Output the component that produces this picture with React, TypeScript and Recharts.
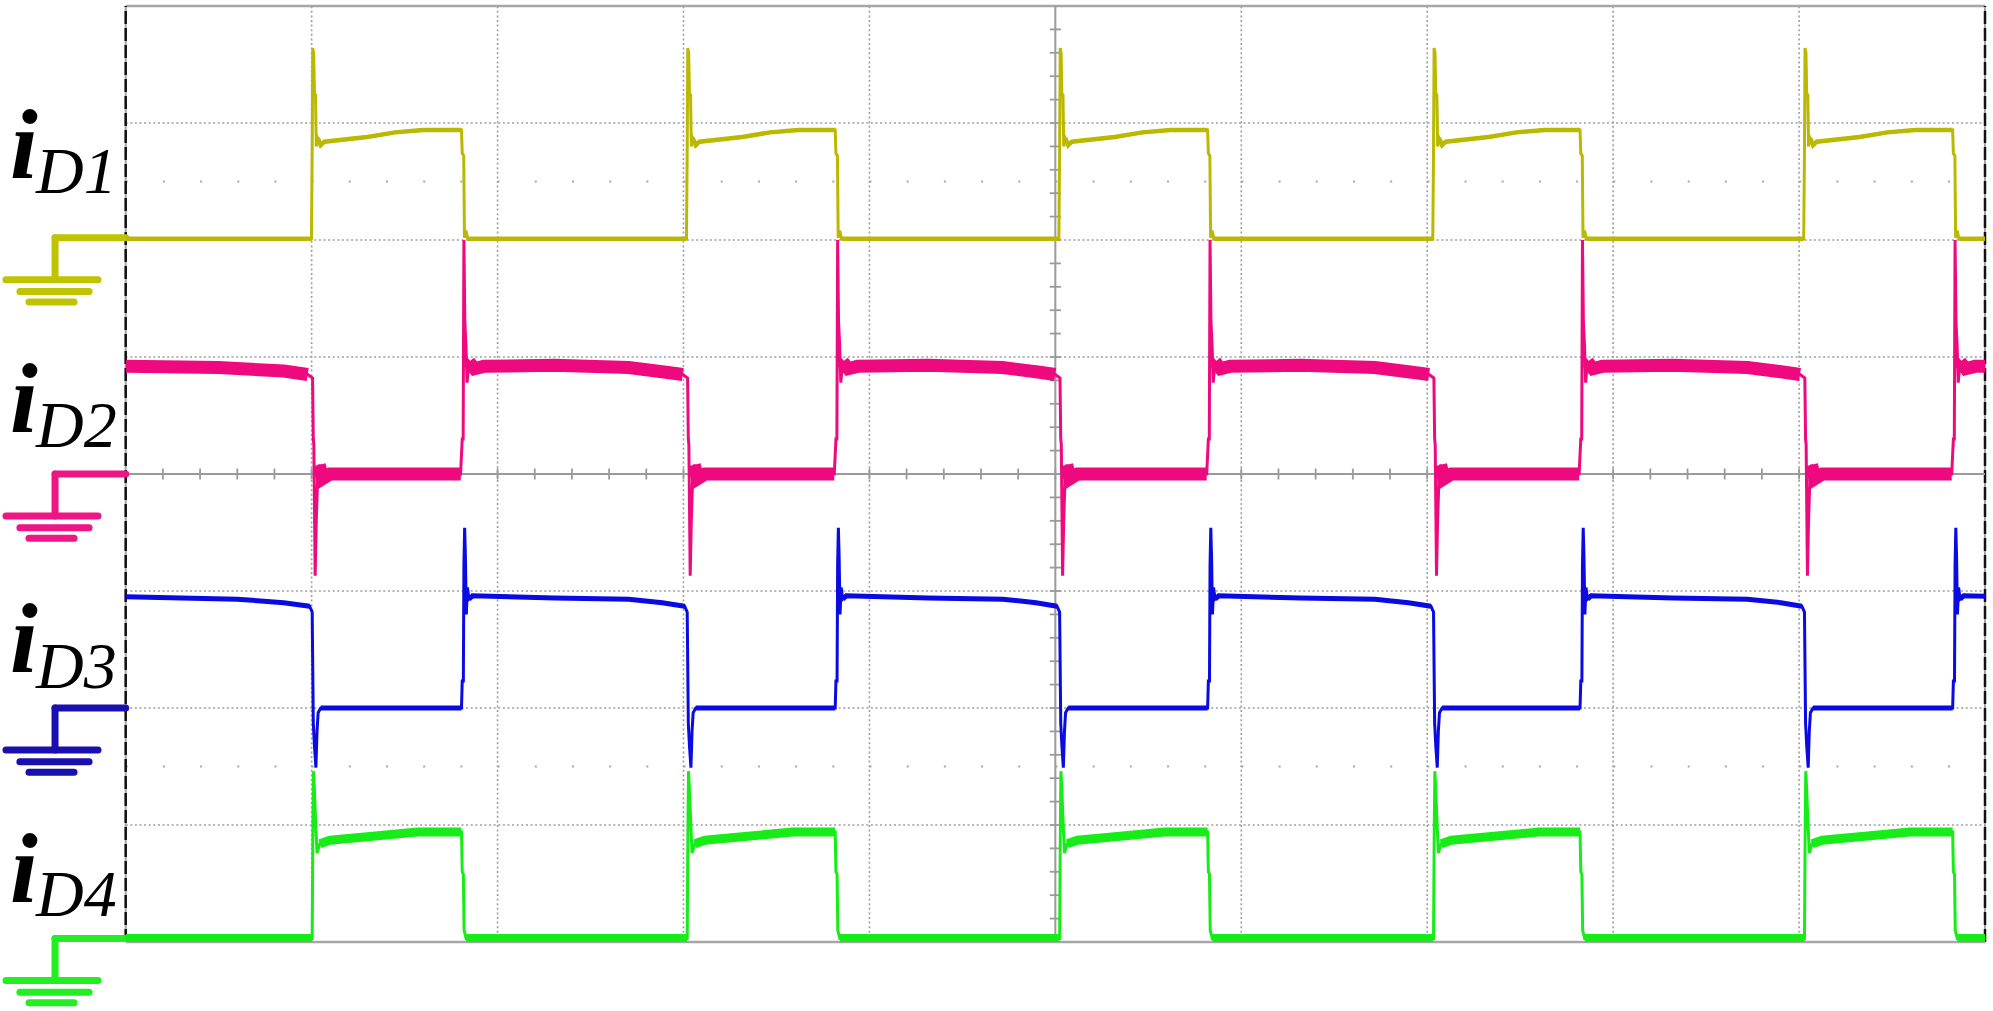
import { Line, LineChart, ReferenceLine, XAxis, YAxis } from "recharts";

// [t or dt in divisions, level in divisions, 1 = edge point (thin only)]
type Pt = [number, number, number];

// switching instants (divisions from the left edge)
const RISE_T = [0.999, 3.016, 5.019, 7.03, 9.025];
const FALL_T = [1.806, 3.816, 5.819, 7.822, 9.826];

// iD1 (yellow), ground at 6 div
const D1_START: Pt[] = [[0, 6.01, 0]];
const D1_AT_RISE: Pt[] = [
  [0, 6.01, 0],
  [0.004, 6.77, 1],
  [0.007, 7.64, 1],
  [0.012, 7.6, 1],
  [0.016, 7.25, 1],
  [0.022, 7.24, 1],
  [0.026, 6.8, 1],
  [0.034, 6.87, 0],
  [0.05, 6.81, 0],
  [0.07, 6.84, 0],
  [0.3, 6.88, 0],
  [0.45, 6.92, 0],
  [0.6, 6.94, 0],
];
const D1_AT_FALL: Pt[] = [
  [0, 6.94, 0],
  [0.004, 6.74, 1],
  [0.012, 6.72, 1],
  [0.016, 6.02, 1],
  [0.024, 6.08, 1],
  [0.034, 6.01, 0],
];
const D1_END: Pt[] = [[10, 6.01, 0]];

// iD2 (pink), ground at 4 div
const D2_START: Pt[] = [
  [0, 4.92, 0],
  [0.5, 4.91, 0],
  [0.85, 4.88, 0],
];
const D2_AT_RISE: Pt[] = [
  [-0.02, 4.85, 0],
  [0.006, 4.82, 1],
  [0.01, 4.3, 1],
  [0.013, 4.25, 1],
  [0.02, 3.13, 1],
  [0.026, 3.6, 1],
  [0.034, 4.0, 1],
  [0.042, 4.08, 0],
  [0.06, 3.96, 0],
  [0.1, 4.0, 0],
];
const D2_AT_FALL: Pt[] = [
  [-0.005, 4.0, 0],
  [0.004, 4.3, 1],
  [0.009, 4.3, 1],
  [0.013, 6.0, 1],
  [0.018, 5.3, 1],
  [0.024, 5.1, 1],
  [0.03, 4.78, 1],
  [0.04, 4.96, 0],
  [0.07, 4.9, 0],
  [0.12, 4.92, 0],
  [0.5, 4.93, 0],
  [0.9, 4.91, 0],
  [1.1, 4.87, 0],
];
const D2_END: Pt[] = [[10, 4.92, 0]];

// iD3 (blue), ground at 2 div
const D3_START: Pt[] = [
  [0, 2.95, 0],
  [0.6, 2.93, 0],
  [0.85, 2.9, 0],
];
const D3_AT_RISE: Pt[] = [
  [-0.01, 2.87, 0],
  [0.004, 2.82, 1],
  [0.01, 1.87, 1],
  [0.016, 1.68, 1],
  [0.024, 1.49, 1],
  [0.03, 1.8, 1],
  [0.036, 1.96, 1],
  [0.05, 2.0, 0],
];
const D3_AT_FALL: Pt[] = [
  [0, 2.0, 0],
  [0.004, 2.23, 1],
  [0.01, 2.23, 1],
  [0.013, 3.22, 1],
  [0.017, 3.54, 1],
  [0.021, 3.3, 1],
  [0.026, 2.8, 1],
  [0.032, 3.03, 1],
  [0.04, 2.93, 0],
  [0.06, 2.96, 0],
  [0.5, 2.94, 0],
  [0.9, 2.93, 0],
  [1.08, 2.9, 0],
];
const D3_END: Pt[] = [[10, 2.95, 0]];

// iD4 (green), ground at the bottom edge
const D4_START: Pt[] = [[0, 0.03, 0]];
const D4_AT_RISE: Pt[] = [
  [0.004, 0.03, 0],
  [0.008, 1.0, 1],
  [0.011, 1.46, 1],
  [0.016, 1.3, 1],
  [0.022, 1.05, 1],
  [0.03, 0.76, 1],
  [0.045, 0.84, 0],
  [0.1, 0.87, 0],
  [0.3, 0.9, 0],
  [0.57, 0.94, 0],
];
const D4_AT_FALL: Pt[] = [
  [0, 0.94, 0],
  [0.004, 0.6, 1],
  [0.01, 0.58, 1],
  [0.014, 0.1, 1],
  [0.025, 0.03, 0],
];
const D4_END: Pt[] = [[10, 0.03, 0]];

const CHANNELS = ["D1", "D2", "D3", "D4"];
const GROUNDS = [6.02, 4.0, 2.0, 0.03];

// graticule
const GRID_X = [1, 2, 3, 4, 6, 7, 8, 9];
const GRID_Y = [1, 2, 3, 5, 6, 7];
const MINOR_ROWS = [1.5, 6.5];
const TICK_X = Array.from({ length: 49 }, (_, i) => (i + 1) * 0.2);
const TICK_Y = Array.from({ length: 39 }, (_, i) => (i + 1) * 0.2);

const COLORS = ["#BAB800", "#EE0A7E", "#0A0AE2", "#18EC18"];
const GND_COLORS = ["#BFC300", "#EE1585", "#1A0FAF", "#22EE22"];
const BAND_W = [4.5, 13, 5, 9];

const W = 1993;
const H = 1011;

function build(start: Pt[], atRise: Pt[], atFall: Pt[], end: Pt[]): Pt[] {
  const pts: Pt[] = [...start];
  RISE_T.forEach((r, i) => {
    atRise.forEach(([dt, v, e]) => pts.push([r + dt, v, e]));
    atFall.forEach(([dt, v, e]) => pts.push([FALL_T[i] + dt, v, e]));
  });
  return pts.concat(end);
}

const TRACES = [
  build(D1_START, D1_AT_RISE, D1_AT_FALL, D1_END),
  build(D2_START, D2_AT_RISE, D2_AT_FALL, D2_END),
  build(D3_START, D3_AT_RISE, D3_AT_FALL, D3_END),
  build(D4_START, D4_AT_RISE, D4_AT_FALL, D4_END),
];

const thin = (pts: Pt[]) => pts.map(([t, v]) => ({ t, v }));
const band = (pts: Pt[]) => pts.map(([t, v, e]) => ({ t, v: e ? null : v }));

const GRID_STROKE = "#9E9E9E";

export default function App() {
  const groundSegs = GROUNDS.flatMap((g, i) => {
    const c = GND_COLORS[i];
    const segs = [
      [{ x: -0.38, y: g }, { x: 0, y: g }],
      [{ x: -0.38, y: g }, { x: -0.38, y: g - 0.36 }],
      [{ x: -0.644, y: g - 0.36 }, { x: -0.149, y: g - 0.36 }],
      [{ x: -0.569, y: g - 0.46 }, { x: -0.197, y: g - 0.46 }],
      [{ x: -0.52, y: g - 0.55 }, { x: -0.278, y: g - 0.55 }],
    ];
    return segs.map((s, j) => (
      <ReferenceLine
        key={`g${i}-${j}`}
        segment={s}
        ifOverflow="visible"
        stroke={c}
        strokeWidth={7}
        strokeLinecap="round"
        style={{ strokeLinecap: "round" }}
      />
    ));
  });

  return (
    <div style={{ position: "absolute", left: 0, top: 0, width: W, height: H, background: "#fff" }}>
      <LineChart width={W} height={H} margin={{ top: 6, right: 8, bottom: 69, left: 125.7 }}>
        <XAxis type="number" dataKey="t" domain={[0, 10]} hide allowDataOverflow />
        <YAxis type="number" dataKey="v" domain={[0, 8]} hide allowDataOverflow />

        {GRID_X.map((x) => (
          <ReferenceLine key={`gx${x}`} x={x} stroke={GRID_STROKE} strokeWidth={1.6} strokeDasharray="2 2.6" />
        ))}
        {GRID_Y.map((y) => (
          <ReferenceLine key={`gy${y}`} y={y} stroke={GRID_STROKE} strokeWidth={1.6} strokeDasharray="2 2.6" />
        ))}
        {MINOR_ROWS.map((y) => (
          <ReferenceLine key={`mr${y}`} y={y} stroke="#A8A8A8" strokeWidth={2.2} strokeDasharray="2 35.19" />
        ))}

        {/* frame */}
        <ReferenceLine y={8} stroke="#A6A6A6" strokeWidth={2.5} />
        <ReferenceLine y={0} stroke="#A6A6A6" strokeWidth={2.5} />
        <ReferenceLine x={0} stroke="#A6A6A6" strokeWidth={2} />
        <ReferenceLine x={10} stroke="#A6A6A6" strokeWidth={2} />
        <ReferenceLine x={0} stroke="#111" strokeWidth={2.5} strokeDasharray="13 4" />
        <ReferenceLine x={10} stroke="#111" strokeWidth={2.5} strokeDasharray="13 4" />

        {/* centre axes with minor ticks */}
        <ReferenceLine x={5} stroke="#9A9A9A" strokeWidth={2} />
        <ReferenceLine y={4} stroke="#9A9A9A" strokeWidth={2} />
        {TICK_X.map((x) => (
          <ReferenceLine
            key={`tx${x}`}
            segment={[{ x, y: 3.953 }, { x, y: 4.047 }]}
            stroke="#9A9A9A"
            strokeWidth={1.8}
          />
        ))}
        {TICK_Y.map((y) => (
          <ReferenceLine
            key={`ty${y}`}
            segment={[{ x: 4.97, y }, { x: 5.03, y }]}
            stroke="#9A9A9A"
            strokeWidth={1.8}
          />
        ))}

        {groundSegs}

        {TRACES.map((pts, i) => (
          <Line
            key={`thin${i}`}
            data={thin(pts)}
            dataKey="v"
            type="linear"
            dot={false}
            activeDot={false}
            stroke={COLORS[i]}
            strokeWidth={3}
            isAnimationActive={false}
          />
        ))}
        {TRACES.map((pts, i) => (
          <Line
            key={`band${i}`}
            data={band(pts)}
            dataKey="v"
            type="linear"
            dot={false}
            activeDot={false}
            stroke={COLORS[i]}
            strokeWidth={BAND_W[i]}
            isAnimationActive={false}
          />
        ))}
      </LineChart>

      <svg
        width={125}
        height={H}
        style={{ position: "absolute", left: 0, top: 0, pointerEvents: "none" }}
      >
        {CHANNELS.map((ch, i) => {
          const iY = [178, 432, 672, 902][i];
          const dY = [193, 447, 688, 916][i];
          return (
            <g key={ch}>
              <text
                x={10}
                y={iY}
                fill="#000"
                fontFamily="Liberation Serif"
                fontSize={100}
                fontStyle="italic"
                fontWeight="bold"
              >
                i
              </text>
              <text
                x={36}
                y={dY}
                fill="#000"
                fontFamily="Liberation Serif"
                fontSize={66}
                fontStyle="italic"
              >
                {ch}
              </text>
            </g>
          );
        })}
      </svg>
    </div>
  );
}
